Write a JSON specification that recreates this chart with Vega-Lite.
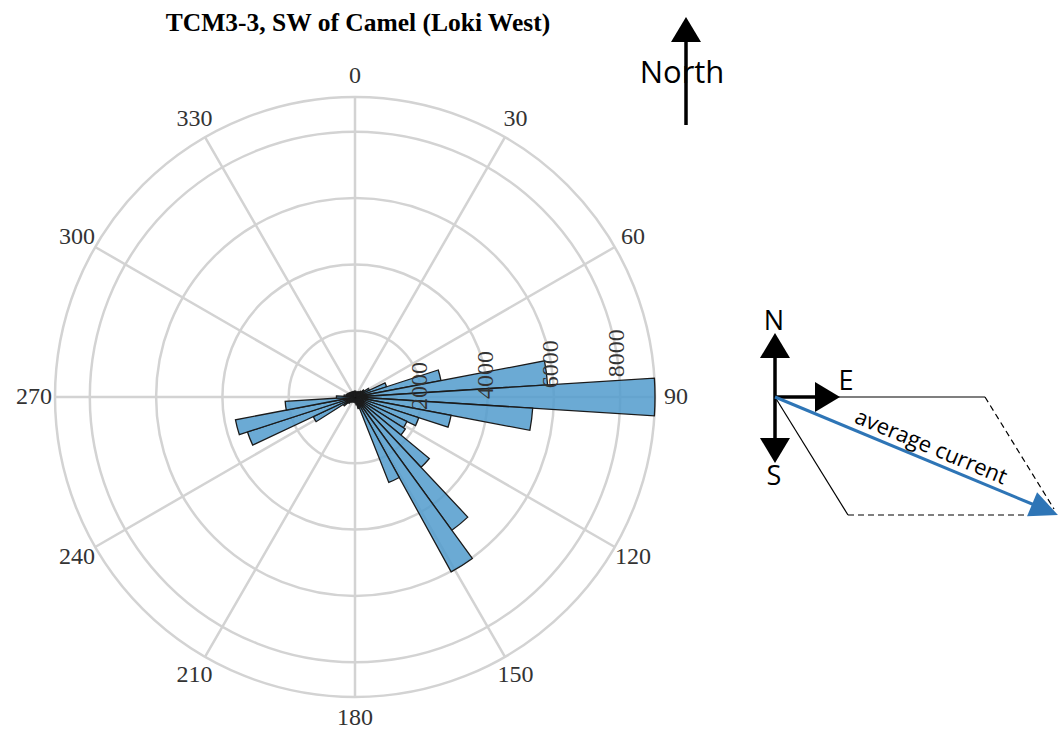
{
  "$schema": "https://vega.github.io/schema/vega-lite/v6.json",
  "width": 600,
  "height": 600,
  "autosize": {"type": "none"},
  "padding": {"left": 55, "top": 97, "right": 406, "bottom": 37},
  "background": "white",
  "config": {"view": {"stroke": null}},
  "datasets": {
    "bins": [
      {"a0": 0, "a1": 7.2, "count": 180},
      {"a0": 7.2, "a1": 14.4, "count": 150},
      {"a0": 14.4, "a1": 21.6, "count": 150},
      {"a0": 21.6, "a1": 28.8, "count": 170},
      {"a0": 28.8, "a1": 36, "count": 180},
      {"a0": 36, "a1": 43.2, "count": 200},
      {"a0": 43.2, "a1": 50.4, "count": 240},
      {"a0": 50.4, "a1": 57.6, "count": 330},
      {"a0": 57.6, "a1": 64.8, "count": 480},
      {"a0": 64.8, "a1": 72, "count": 1000},
      {"a0": 72, "a1": 79.2, "count": 2640},
      {"a0": 79.2, "a1": 86.4, "count": 5820},
      {"a0": 86.4, "a1": 93.6, "count": 9050},
      {"a0": 93.6, "a1": 100.8, "count": 5370},
      {"a0": 100.8, "a1": 108, "count": 2950},
      {"a0": 108, "a1": 115.2, "count": 2020},
      {"a0": 115.2, "a1": 122.4, "count": 1730},
      {"a0": 122.4, "a1": 129.6, "count": 1800},
      {"a0": 129.6, "a1": 136.8, "count": 2910},
      {"a0": 136.8, "a1": 144, "count": 4970},
      {"a0": 144, "a1": 151.2, "count": 6020},
      {"a0": 151.2, "a1": 158.4, "count": 2770},
      {"a0": 158.4, "a1": 165.6, "count": 360},
      {"a0": 165.6, "a1": 172.8, "count": 240},
      {"a0": 172.8, "a1": 180, "count": 180},
      {"a0": 180, "a1": 187.2, "count": 150},
      {"a0": 187.2, "a1": 194.4, "count": 150},
      {"a0": 194.4, "a1": 201.6, "count": 150},
      {"a0": 201.6, "a1": 208.8, "count": 160},
      {"a0": 208.8, "a1": 216, "count": 170},
      {"a0": 216, "a1": 223.2, "count": 200},
      {"a0": 223.2, "a1": 230.4, "count": 260},
      {"a0": 230.4, "a1": 237.6, "count": 420},
      {"a0": 237.6, "a1": 244.8, "count": 1390},
      {"a0": 244.8, "a1": 252, "count": 3410},
      {"a0": 252, "a1": 259.2, "count": 3670},
      {"a0": 259.2, "a1": 266.4, "count": 2110},
      {"a0": 266.4, "a1": 273.6, "count": 560},
      {"a0": 273.6, "a1": 280.8, "count": 330},
      {"a0": 280.8, "a1": 288, "count": 270},
      {"a0": 288, "a1": 295.2, "count": 240},
      {"a0": 295.2, "a1": 302.4, "count": 220},
      {"a0": 302.4, "a1": 309.6, "count": 200},
      {"a0": 309.6, "a1": 316.8, "count": 190},
      {"a0": 316.8, "a1": 324, "count": 180},
      {"a0": 324, "a1": 331.2, "count": 170},
      {"a0": 331.2, "a1": 338.4, "count": 170},
      {"a0": 338.4, "a1": 345.6, "count": 170},
      {"a0": 345.6, "a1": 352.8, "count": 170},
      {"a0": 352.8, "a1": 360, "count": 170}
    ],
    "rings": [{"v": 2000}, {"v": 4000}, {"v": 6000}, {"v": 8000}, {"v": 9050}],
    "ticks": [
      {"v": 2000, "label": "2000"},
      {"v": 4000, "label": "4000"},
      {"v": 6000, "label": "6000"},
      {"v": 8000, "label": "8000"}
    ],
    "spokes": [
      {"ang": 0, "label": "0"}, {"ang": 30, "label": "30"}, {"ang": 60, "label": "60"},
      {"ang": 90, "label": "90"}, {"ang": 120, "label": "120"}, {"ang": 150, "label": "150"},
      {"ang": 180, "label": "180"}, {"ang": 210, "label": "210"}, {"ang": 240, "label": "240"},
      {"ang": 270, "label": "270"}, {"ang": 300, "label": "300"}, {"ang": 330, "label": "330"}
    ],
    "titleText": [{"x": -417, "y": 374, "t": "TCM3-3, SW of Camel (Loki West)"}],
    "axisLines": [
      {"x": -89, "y": 272, "x2": -89, "y2": 360},
      {"x": 0, "y": 0, "x2": 0, "y2": 46},
      {"x": 0, "y": 0, "x2": 0, "y2": -45},
      {"x": 0, "y": 0, "x2": 44, "y2": 0}
    ],
    "thinLines": [
      {"x": 60, "y": 0, "x2": 210, "y2": 0},
      {"x": 0, "y": 0, "x2": 73, "y2": -118}
    ],
    "dashLines": [
      {"x": 210, "y": 0, "x2": 279, "y2": -112},
      {"x": 73, "y": -118, "x2": 262, "y2": -118}
    ],
    "blueLine": [{"x": 0, "y": 0, "x2": 262, "y2": -109}],
    "heads": [
      {"x": -89, "y": 367.5, "dir": 0},
      {"x": 0, "y": 51.5, "dir": 0},
      {"x": 0, "y": -53.5, "dir": 180},
      {"x": 52.5, "y": 0, "dir": 90}
    ],
    "blueHead": [{"x": 270, "y": -112.6, "dir": 112.6}],
    "bigText": [{"x": -93, "y": 323, "t": "North"}],
    "compassText": [
      {"x": -1, "y": 75, "t": "N"},
      {"x": -1, "y": -80, "t": "S"},
      {"x": 71, "y": 15, "t": "E"}
    ],
    "vecText": [{"x": 156, "y": -50, "t": "average current", "dir": 22.6}]
  },
  "layer": [
    {
      "data": {"name": "rings"},
      "mark": {"type": "arc", "fill": "white", "fillOpacity": 0, "stroke": "#d3d3d3", "strokeWidth": 2.5},
      "encoding": {
        "theta": {"datum": 0, "type": "quantitative", "scale": {"domain": [0, 360], "range": [0, 6.283185307179586]}},
        "theta2": {"datum": 360},
        "radius": {"field": "v", "type": "quantitative", "stack": null, "scale": {"type": "linear", "domain": [0, 9050], "range": [0, 300], "nice": false, "zero": true}}
      }
    },
    {
      "data": {"name": "spokes"},
      "mark": {"type": "arc", "fill": "white", "fillOpacity": 0, "stroke": "#d3d3d3", "strokeWidth": 2.5},
      "encoding": {
        "theta": {"field": "ang", "type": "quantitative", "stack": null, "scale": {"domain": [0, 360], "range": [0, 6.283185307179586]}},
        "theta2": {"field": "ang"},
        "radius": {"datum": 9050, "type": "quantitative", "scale": {"type": "linear", "domain": [0, 9050], "range": [0, 300], "nice": false, "zero": true}}
      }
    },
    {
      "data": {"name": "bins"},
      "mark": {"type": "arc", "fill": "#519bcc", "fillOpacity": 0.85, "stroke": "#1b1b1b", "strokeWidth": 1.3},
      "encoding": {
        "theta": {"field": "a0", "type": "quantitative", "stack": null, "scale": {"domain": [0, 360], "range": [0, 6.283185307179586]}},
        "theta2": {"field": "a1"},
        "radius": {"field": "count", "type": "quantitative", "stack": null, "scale": {"type": "linear", "domain": [0, 9050], "range": [0, 300], "nice": false, "zero": true}}
      }
    },
    {
      "data": {"name": "ticks"},
      "mark": {"type": "text", "font": "Liberation Serif", "fontSize": 24, "color": "#333333", "angle": 270, "align": "center", "baseline": "middle"},
      "encoding": {
        "theta": {"datum": 80.5, "type": "quantitative", "scale": {"domain": [0, 360], "range": [0, 6.283185307179586]}},
        "radius": {"field": "v", "type": "quantitative", "stack": null, "scale": {"type": "linear", "domain": [0, 9050], "range": [0, 300], "nice": false, "zero": true}},
        "text": {"field": "label", "type": "nominal"}
      }
    },
    {
      "data": {"name": "spokes"},
      "mark": {"type": "text", "font": "Liberation Serif", "fontSize": 24, "color": "#333333", "align": "center", "baseline": "middle"},
      "encoding": {
        "theta": {"field": "ang", "type": "quantitative", "stack": null, "scale": {"domain": [0, 360], "range": [0, 6.283185307179586]}},
        "radius": {"datum": 9680, "type": "quantitative", "scale": {"type": "linear", "domain": [0, 9050], "range": [0, 300], "nice": false, "zero": true}},
        "text": {"field": "label", "type": "nominal"}
      }
    },
    {
      "data": {"name": "titleText"},
      "mark": {"type": "text", "font": "Liberation Serif", "fontSize": 25.5, "fontWeight": "bold", "color": "#000000", "align": "center", "baseline": "middle"},
      "encoding": {
        "x": {"field": "x", "type": "quantitative", "axis": null, "scale": {"domain": [-720, -120], "nice": false, "zero": false}},
        "y": {"field": "y", "type": "quantitative", "axis": null, "scale": {"domain": [-300, 300], "nice": false, "zero": false}},
        "text": {"field": "t", "type": "nominal"}
      }
    },
    {
      "data": {"name": "axisLines"},
      "mark": {"type": "rule", "color": "#000000", "strokeWidth": 3.5},
      "encoding": {
        "x": {"field": "x", "type": "quantitative", "axis": null, "scale": {"domain": [-720, -120], "nice": false, "zero": false}},
        "y": {"field": "y", "type": "quantitative", "axis": null, "scale": {"domain": [-300, 300], "nice": false, "zero": false}},
        "x2": {"field": "x2"},
        "y2": {"field": "y2"}
      }
    },
    {
      "data": {"name": "thinLines"},
      "mark": {"type": "rule", "color": "#000000", "strokeWidth": 1.2},
      "encoding": {
        "x": {"field": "x", "type": "quantitative", "axis": null, "scale": {"domain": [-720, -120], "nice": false, "zero": false}},
        "y": {"field": "y", "type": "quantitative", "axis": null, "scale": {"domain": [-300, 300], "nice": false, "zero": false}},
        "x2": {"field": "x2"},
        "y2": {"field": "y2"}
      }
    },
    {
      "data": {"name": "dashLines"},
      "mark": {"type": "rule", "color": "#000000", "strokeWidth": 1.2, "strokeDash": [6, 4]},
      "encoding": {
        "x": {"field": "x", "type": "quantitative", "axis": null, "scale": {"domain": [-720, -120], "nice": false, "zero": false}},
        "y": {"field": "y", "type": "quantitative", "axis": null, "scale": {"domain": [-300, 300], "nice": false, "zero": false}},
        "x2": {"field": "x2"},
        "y2": {"field": "y2"}
      }
    },
    {
      "data": {"name": "blueLine"},
      "mark": {"type": "rule", "color": "#2e75b6", "strokeWidth": 3},
      "encoding": {
        "x": {"field": "x", "type": "quantitative", "axis": null, "scale": {"domain": [-720, -120], "nice": false, "zero": false}},
        "y": {"field": "y", "type": "quantitative", "axis": null, "scale": {"domain": [-300, 300], "nice": false, "zero": false}},
        "x2": {"field": "x2"},
        "y2": {"field": "y2"}
      }
    },
    {
      "data": {"name": "heads"},
      "mark": {"type": "point", "shape": "M0,-0.833L1,0.833L-1,0.833Z", "filled": true, "color": "#000000", "opacity": 1, "size": 900},
      "encoding": {
        "x": {"field": "x", "type": "quantitative", "axis": null, "scale": {"domain": [-720, -120], "nice": false, "zero": false}},
        "y": {"field": "y", "type": "quantitative", "axis": null, "scale": {"domain": [-300, 300], "nice": false, "zero": false}},
        "angle": {"field": "dir", "type": "quantitative", "scale": null}
      }
    },
    {
      "data": {"name": "blueHead"},
      "mark": {"type": "point", "shape": "M0,-1L0.93,1L-0.93,1Z", "filled": true, "color": "#2e75b6", "opacity": 1, "size": 784},
      "encoding": {
        "x": {"field": "x", "type": "quantitative", "axis": null, "scale": {"domain": [-720, -120], "nice": false, "zero": false}},
        "y": {"field": "y", "type": "quantitative", "axis": null, "scale": {"domain": [-300, 300], "nice": false, "zero": false}},
        "angle": {"field": "dir", "type": "quantitative", "scale": null}
      }
    },
    {
      "data": {"name": "bigText"},
      "mark": {"type": "text", "font": "Open Sans", "fontSize": 31, "color": "#000000", "align": "center", "baseline": "middle"},
      "encoding": {
        "x": {"field": "x", "type": "quantitative", "axis": null, "scale": {"domain": [-720, -120], "nice": false, "zero": false}},
        "y": {"field": "y", "type": "quantitative", "axis": null, "scale": {"domain": [-300, 300], "nice": false, "zero": false}},
        "text": {"field": "t", "type": "nominal"}
      }
    },
    {
      "data": {"name": "compassText"},
      "mark": {"type": "text", "font": "Open Sans", "fontSize": 27, "color": "#000000", "align": "center", "baseline": "middle"},
      "encoding": {
        "x": {"field": "x", "type": "quantitative", "axis": null, "scale": {"domain": [-720, -120], "nice": false, "zero": false}},
        "y": {"field": "y", "type": "quantitative", "axis": null, "scale": {"domain": [-300, 300], "nice": false, "zero": false}},
        "text": {"field": "t", "type": "nominal"}
      }
    },
    {
      "data": {"name": "vecText"},
      "mark": {"type": "text", "font": "Open Sans", "fontSize": 22, "color": "#000000", "align": "center", "baseline": "middle"},
      "encoding": {
        "x": {"field": "x", "type": "quantitative", "axis": null, "scale": {"domain": [-720, -120], "nice": false, "zero": false}},
        "y": {"field": "y", "type": "quantitative", "axis": null, "scale": {"domain": [-300, 300], "nice": false, "zero": false}},
        "text": {"field": "t", "type": "nominal"},
        "angle": {"field": "dir", "type": "quantitative", "scale": null}
      }
    }
  ]
}
